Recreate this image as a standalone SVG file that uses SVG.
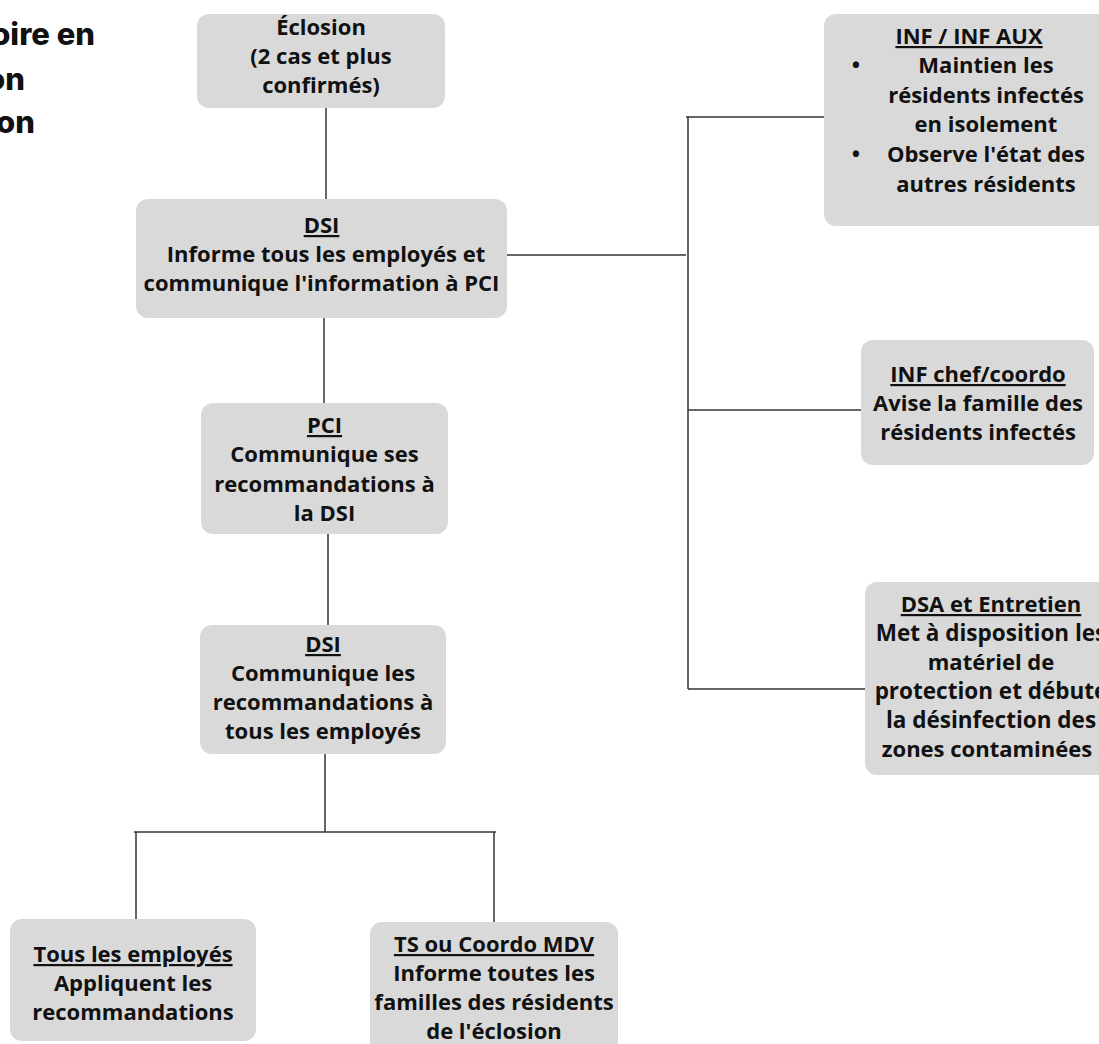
<svg xmlns="http://www.w3.org/2000/svg" width="1099" height="1044" viewBox="0 0 1099 1044">
<style>
.box{fill:#d9d9d9}
.t{font-family:"Open Sans","Noto Sans","Liberation Sans",sans-serif;font-weight:700;font-size:22px;fill:#111;text-anchor:middle}
.u{text-decoration:underline}
.title{font-family:Inter,"Lato","Liberation Sans",sans-serif;font-weight:800;font-size:31px;fill:#111;text-anchor:end}
.c{stroke:#333;stroke-width:1.5;fill:none}
</style>
<rect width="1099" height="1044" fill="#ffffff"/>
<g id="title">
<text class="title" x="95" y="45">oire en</text>
<text class="title" x="25" y="90">on</text>
<text class="title" x="35" y="133">on</text>
</g>
<g id="connectors">
<line class="c" x1="326" y1="108" x2="326" y2="199"/>
<line class="c" x1="324" y1="318" x2="324" y2="403"/>
<line class="c" x1="328" y1="534" x2="328" y2="625"/>
<line class="c" x1="325" y1="754" x2="325" y2="832"/>
<line class="c" x1="134" y1="832" x2="496" y2="832"/>
<line class="c" x1="136" y1="832" x2="136" y2="919"/>
<line class="c" x1="494" y1="832" x2="494" y2="922"/>
<line class="c" x1="507" y1="255" x2="686" y2="255"/>
<line class="c" x1="688" y1="117" x2="688" y2="689"/>
<line class="c" x1="686" y1="117" x2="826" y2="117"/>
<line class="c" x1="688" y1="410" x2="862" y2="410"/>
<line class="c" x1="688" y1="689" x2="866" y2="689"/>
</g>
<g id="n-eclosion">
<rect class="box" x="197" y="14" width="248" height="94" rx="12"/>
<text class="t" x="321" y="35">Éclosion</text>
<text class="t" x="321" y="64">(2 cas et plus</text>
<text class="t" x="321" y="93">confirmés)</text>
</g>
<g id="n-dsi1">
<rect class="box" x="136" y="199" width="371" height="119" rx="12"/>
<text class="t u" x="321.5" y="233">DSI</text>
<text class="t" x="326" y="262">Informe tous les employés et</text>
<text class="t" x="321.5" y="291">communique l'information à PCI</text>
</g>
<g id="n-pci">
<rect class="box" x="201" y="403" width="247" height="131" rx="12"/>
<text class="t u" x="324.5" y="433">PCI</text>
<text class="t" x="324.5" y="462">Communique ses</text>
<text class="t" x="324.5" y="492">recommandations à</text>
<text class="t" x="324.5" y="521">la DSI</text>
</g>
<g id="n-dsi2">
<rect class="box" x="200" y="625" width="246" height="129" rx="12"/>
<text class="t u" x="323" y="652">DSI</text>
<text class="t" x="323" y="681">Communique les</text>
<text class="t" x="323" y="710">recommandations à</text>
<text class="t" x="323" y="739">tous les employés</text>
</g>
<g id="n-tous">
<rect class="box" x="10" y="919" width="246" height="122" rx="12"/>
<text class="t u" x="133" y="962">Tous les employés</text>
<text class="t" x="133" y="991">Appliquent les</text>
<text class="t" x="133" y="1020">recommandations</text>
</g>
<g id="n-ts">
<rect class="box" x="370" y="922" width="248" height="140" rx="12"/>
<text class="t u" x="494" y="952">TS ou Coordo MDV</text>
<text class="t" x="494" y="981">Informe toutes les</text>
<text class="t" x="494" y="1010">familles des résidents</text>
<text class="t" x="494" y="1039">de l'éclosion</text>
</g>
<g id="n-inf">
<rect class="box" x="824" y="14" width="290" height="212" rx="12"/>
<text class="t u" x="969" y="44">INF / INF AUX</text>
<text class="t" x="856" y="73">•</text>
<text class="t" x="986" y="73">Maintien les</text>
<text class="t" x="986" y="103">résidents infectés</text>
<text class="t" x="986" y="132">en isolement</text>
<text class="t" x="856" y="162">•</text>
<text class="t" x="986" y="162">Observe l'état des</text>
<text class="t" x="986" y="192">autres résidents</text>
</g>
<g id="n-infchef">
<rect class="box" x="861" y="340" width="233" height="125" rx="12"/>
<text class="t u" x="978" y="382">INF chef/coordo</text>
<text class="t" x="978" y="411">Avise la famille des</text>
<text class="t" x="978" y="440">résidents infectés</text>
</g>
<g id="n-dsa">
<rect class="box" x="865" y="582" width="256" height="193" rx="12"/>
<text class="t u" x="991" y="612">DSA et Entretien</text>
<text class="t" x="991" y="641" style="font-size:22.5px">Met à disposition les</text>
<text class="t" x="991" y="670">matériel de</text>
<text class="t" x="991" y="699" style="font-size:22.5px">protection et débute</text>
<text class="t" x="991" y="728" style="font-size:22.5px">la désinfection des</text>
<text class="t" x="987" y="757">zones contaminées</text>
</g>
</svg>
